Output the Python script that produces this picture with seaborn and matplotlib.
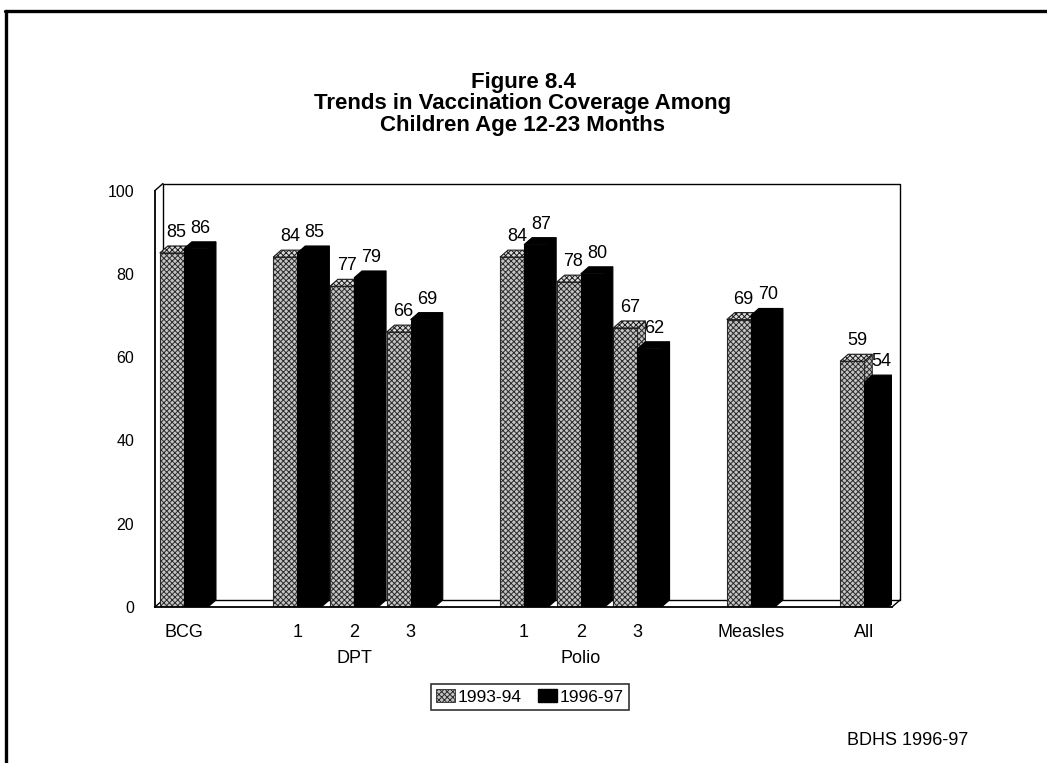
import matplotlib
matplotlib.use("Agg")
import matplotlib.pyplot as plt
import numpy as np
import pandas as pd
import seaborn as sns
from matplotlib.patches import Polygon, Patch
from matplotlib.lines import Line2D

# ---- data -------------------------------------------------------------
vaccines = ["BCG", "1", "2", "3", "1", "2", "3", "Measles", "All"]
slots = [0, 2, 3, 4, 6, 7, 8, 10, 12]          # horizontal slot of each vaccine
group_labels = ["DPT", "Polio"]
group_slots = [3, 7]
years = ["1993-94", "1996-97"]
cov_1993 = [85, 84, 77, 66, 84, 78, 67, 69, 59]
cov_1996 = [86, 85, 79, 69, 87, 80, 62, 70, 54]
y_ticks = [0, 20, 40, 60, 80, 100]

df = pd.DataFrame({
    "slot": slots * 2,
    "coverage": cov_1993 + cov_1996,
    "year": [years[0]] * len(slots) + [years[1]] * len(slots),
})

# ---- style ------------------------------------------------------------
sns.set_theme(style="white")
plt.rcParams["font.family"] = ["Liberation Sans", "DejaVu Sans"]
plt.rcParams["text.color"] = "black"
plt.rcParams["hatch.linewidth"] = 0.7
plt.rcParams["hatch.color"] = "#3a3a3a"

GREY = "#c4c4c4"
BLACK = "#000000"
HATCH = "xxxxxx"

fig = plt.figure(figsize=(10.47, 7.63), dpi=100)
ax = fig.add_axes([0.148, 0.2045, 0.704, 0.5458])

sns.barplot(data=df, x="slot", y="coverage", hue="year", native_scale=True,
            palette=[GREY, BLACK], width=0.85, ax=ax, legend=False,
            saturation=1, errorbar=None)

XMIN, XMAX = -0.51, 12.49
ax.set_xlim(XMIN, XMAX)
ax.set_ylim(0, 100)

# depth of the pseudo-3D extrusion, in data units
DX, DY = 0.141, 1.68

grey_bars = ax.containers[0]
black_bars = ax.containers[1]

def faces(bar):
    x0 = bar.get_x()
    w = bar.get_width()
    h = bar.get_height()
    x1 = x0 + w
    top = [(x0, h), (x1, h), (x1 + DX, h + DY), (x0 + DX, h + DY)]
    side = [(x1, 0), (x1, h), (x1 + DX, h + DY), (x1 + DX, DY)]
    return x0, x1, h, top, side

VAL_FS = 13
for g, b in zip(grey_bars, black_bars):
    # grey bar: textured front, top and side
    g.set_hatch(HATCH)
    g.set_edgecolor("#2a2a2a")
    g.set_linewidth(0.8)
    g.set_zorder(3)
    x0, x1, h, top, side = faces(g)
    ax.add_patch(Polygon(side, closed=True, facecolor=GREY, edgecolor="#2a2a2a",
                         hatch=HATCH, lw=0.8, zorder=2.5))
    ax.add_patch(Polygon(top, closed=True, facecolor="#dcdcdc", edgecolor="#1a1a1a",
                         hatch=HATCH, lw=0.8, zorder=3.1))
    ax.text((x0 + x1) / 2 + DX * 0.6, h + DY + 1.2, f"{h:.0f}", ha="center",
            va="bottom", fontsize=VAL_FS, color="black", zorder=6)

    # black bar: solid front, top and side
    b.set_edgecolor(BLACK)
    b.set_linewidth(0.8)
    b.set_zorder(4)
    x0, x1, h, top, side = faces(b)
    ax.add_patch(Polygon(side, closed=True, facecolor=BLACK, edgecolor=BLACK,
                         lw=0.8, zorder=4))
    ax.add_patch(Polygon(top, closed=True, facecolor=BLACK, edgecolor=BLACK,
                         lw=0.8, zorder=4))
    ax.text((x0 + x1) / 2 + DX * 0.6, h + DY + 1.2, f"{h:.0f}", ha="center",
            va="bottom", fontsize=VAL_FS, color="black", zorder=6)

# ---- walls and floor of the 3-D box -----------------------------------
wall_kw = dict(color="black", lw=1.0, clip_on=False, zorder=1)
ax.plot([XMIN + DX, XMAX + DX, XMAX + DX], [100 + DY, 100 + DY, DY], **wall_kw)
ax.plot([XMIN + DX, XMIN + DX, XMAX + DX], [100 + DY, DY, DY], **wall_kw)
ax.plot([XMIN, XMIN + DX], [100, 100 + DY], **wall_kw)
ax.plot([XMIN, XMIN + DX], [0, DY], **wall_kw)
ax.plot([XMAX, XMAX + DX], [0, DY], **wall_kw)

for side in ["top", "right"]:
    ax.spines[side].set_visible(False)
for side in ["left", "bottom"]:
    ax.spines[side].set_color("black")
    ax.spines[side].set_linewidth(1.3)
    ax.spines[side].set_zorder(5)

ax.set_yticks(y_ticks)
ax.set_yticklabels([str(t) for t in y_ticks], fontsize=11.5)
ax.set_xticks(slots)
ax.set_xticklabels(vaccines, fontsize=13)
ax.tick_params(axis="y", length=0, pad=15, colors="black")
ax.tick_params(axis="x", length=0, pad=12, colors="black")
ax.set_xlabel("")
ax.set_ylabel("")
ax.grid(False)

for lab, s in zip(group_labels, group_slots):
    ax.text(s, -12.3, lab, ha="center", va="center", fontsize=13,
            color="black", transform=ax.transData, clip_on=False)

# ---- legend -----------------------------------------------------------
handles = [Patch(facecolor=GREY, edgecolor="#2a2a2a", hatch=HATCH, lw=0.6),
           Patch(facecolor=BLACK, edgecolor=BLACK)]
leg = fig.legend(handles, years, loc="center", bbox_to_anchor=(0.506, 0.0865),
                 ncol=2, frameon=True, fancybox=False, fontsize=12.5,
                 handlelength=1.1, handleheight=0.8, handletextpad=0.15,
                 columnspacing=0.9, borderpad=0.3, borderaxespad=0)
leg.get_frame().set_edgecolor("black")
leg.get_frame().set_linewidth(1.2)
for t in leg.get_texts():
    t.set_color("black")

# ---- titles and source --------------------------------------------------
title_lines = ["Figure 8.4", "Trends in Vaccination Coverage Among",
               "Children Age 12-23 Months"]
for line, yy in zip(title_lines, [0.8925, 0.8637, 0.8349]):
    fig.text(0.4995, yy, line, ha="center", va="center", fontsize=16,
             fontweight="bold", color="black")
fig.text(0.9245, 0.029, "BDHS 1996-97", ha="right", va="center", fontsize=13,
         color="black")

# page frame
fig.add_artist(Line2D([0.0048, 1.0], [0.9856, 0.9856], transform=fig.transFigure,
                      color="black", lw=2.4))
fig.add_artist(Line2D([0.0057, 0.0057], [0.0, 0.9856], transform=fig.transFigure,
                      color="black", lw=2.4))

fig.savefig("out.png", dpi=100, facecolor="white")
